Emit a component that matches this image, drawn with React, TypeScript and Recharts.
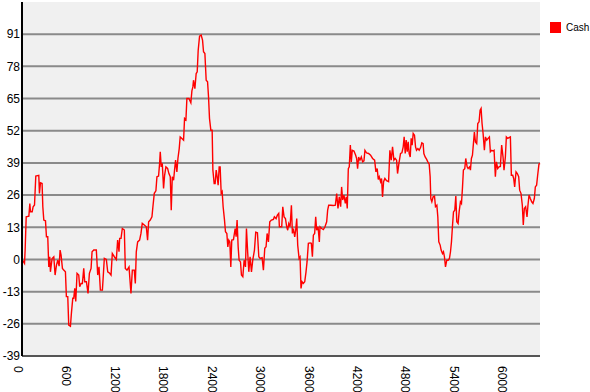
import React from 'react';
import { LineChart, Line, XAxis, YAxis, CartesianGrid } from 'recharts';

const days = [
  0, 31, 39, 52, 85, 97, 105, 126, 138, 155, 171, 208, 216, 229, 249, 258, 270, 291, 303, 319,
  332, 344, 352, 373, 394, 410, 427, 443, 460, 472, 484, 501, 517, 538, 550, 567, 579, 600, 612, 629,
  641, 654, 666, 682, 703, 715, 732, 748, 765, 777, 798, 818, 835, 856, 868, 889, 921, 938, 954, 971,
  996, 1004, 1020, 1045, 1062, 1086, 1103, 1119, 1144, 1169, 1185, 1202, 1210, 1227, 1243, 1268, 1280, 1301, 1326, 1350,
  1367, 1391, 1404, 1416, 1433, 1457, 1474, 1490, 1515, 1540, 1556, 1569, 1589, 1610, 1622, 1639, 1659, 1672, 1692, 1705,
  1713, 1725, 1738, 1754, 1767, 1783, 1804, 1820, 1837, 1849, 1862, 1878, 1890, 1903, 1919, 1932, 1948, 1960, 1981, 2002,
  2014, 2031, 2043, 2068, 2092, 2105, 2117, 2125, 2142, 2158, 2171, 2183, 2200, 2220, 2237, 2249, 2266, 2282, 2299, 2311,
  2323, 2340, 2356, 2365, 2381, 2393, 2406, 2418, 2430, 2443, 2455, 2468, 2480, 2492, 2509, 2521, 2538, 2550, 2562, 2575,
  2587, 2599, 2620, 2641, 2653, 2665, 2678, 2690, 2707, 2719, 2736, 2752, 2769, 2781, 2797, 2810, 2826, 2843, 2859, 2880,
  2896, 2917, 2934, 2950, 2975, 2991, 3008, 3024, 3037, 3053, 3070, 3090, 3115, 3127, 3148, 3164, 3181, 3189,
  3198, 3218, 3231, 3247, 3264, 3280, 3292, 3305, 3321, 3338, 3350, 3363, 3379, 3391, 3404, 3416, 3433, 3445, 3457, 3470,
  3486, 3503, 3519, 3532, 3548, 3569, 3585, 3598, 3610, 3626, 3639, 3651, 3668, 3684, 3692, 3713, 3734, 3754, 3775, 3787,
  3800, 3824, 3857, 3882, 3899, 3915, 3931, 3948, 3960, 3973, 3989, 4006, 4018, 4030, 4043, 4055, 4068, 4080, 4092, 4113,
  4134, 4146, 4158, 4171, 4187, 4204, 4220, 4237, 4249, 4270, 4294, 4319, 4344, 4369, 4385, 4401, 4414, 4426, 4443, 4455,
  4467, 4480, 4496, 4517, 4542, 4558, 4575, 4591, 4608, 4624, 4641, 4653, 4670, 4690, 4707, 4723, 4735, 4748, 4760, 4773,
  4785, 4797, 4810, 4822, 4834, 4847, 4863, 4876, 4888, 4905, 4921, 4938, 4954, 4970, 4979, 4995, 5012, 5028, 5045, 5057,
  5065, 5078, 5094, 5111, 5123, 5140, 5152, 5164, 5181, 5193, 5210, 5222, 5234, 5247, 5263, 5280, 5296, 5309, 5321, 5333,
  5346, 5362, 5375, 5387, 5403, 5416, 5432, 5445, 5457, 5469, 5486, 5498, 5515, 5527, 5544, 5556, 5568, 5581, 5593, 5605,
  5618, 5634, 5647, 5663, 5676, 5688, 5700, 5713, 5729, 5742, 5758, 5775, 5791, 5803, 5820, 5836, 5849, 5865, 5878, 5894,
  5910, 5927, 5943, 5960, 5972, 5989, 6001, 6018, 6034, 6051, 6063, 6080, 6092, 6104, 6121, 6137, 6154, 6166, 6183, 6199,
  6211, 6224, 6240, 6257, 6269, 6282, 6298, 6315, 6331, 6348, 6360, 6376, 6389, 6405, 6418,
];

const cash = [
  0, -1.6, 3.8, 17.2, 17.5, 22.6, 19.3, 19.3, 21.3, 22, 33.7, 34, 26.7, 31, 30.7, 21.3, 15.9, 15.6, 9.2, 9.2,
  -3, 1.1, -5, 0.4, 1.1, -6.3, -2.3, -0.3, -2.7, 3.8, 1.8, -3.6, -4.3, -5, -15, -15, -26.5, -27, -21.8, -15.7,
  -15.7, -11.7, -17, -5.6, -6.3, -11, -9.7, -9.7, -3.6, -9, -9, -13.7, -5.6, -3.6, 3.1, 3.8, 3.8, -6.3, -3, -12.4,
  -12.4, -8.3, 0.4, 0, -5, -5.6, -6.3, 2.4, 1.1, 0, 7.8, 3.1, 8.5, 8.5, 12.5, 11.9, -3.6, -4.3, -3, -13.7,
  -4.3, -4.3, -9.7, 3.1, 7.1, 7.8, 10.5, 14.6, 13.9, 13.2, 7.8, 15.2, 15.9, 17.2, 21.3, 26.7, 27.7, 33.4, 33.7, 38.8,
  43.5, 37.4, 38.8, 28.7, 34, 37.4, 36.8, 34.7, 33.4, 19.9, 33.4, 32, 36.1, 40.1, 35.4, 40.8, 44.8, 49.5, 48.9, 48.2,
  57, 56.4, 65, 65, 63.3, 68.1, 69.7, 72.4, 69, 75.1, 75.8, 84.5, 90.2, 90.6, 88.6, 83.9, 83.2, 72.4, 71.8, 65.7,
  57, 52.2, 52.2, 36.1, 30.7, 30.7, 36.1, 33.4, 30, 37.4, 37.4, 26.7, 27.4, 21.3, 15.9, 11.2, 10.5, 5.1, 7.8, 7.1,
  -3, 7.8, 8, 12.5, 9.2, 15.9, 5.1, -0.3, -1, -6.3, -7, -0.3, -3, 12.5, 2.4, -5, 1.1, -5, -0.3, 3.8,
  11, 10.8, 1.1, 0.4, 0.7, -4.3, 4.5, 5.1, 10.5, 7.1, 15.2, 15.9, 16.2, 17.2, 16.5, 17.9, 18.6, 13.2,
  13.2, 13.2, 21.3, 17.2, 16.5, 13.2, 11.8, 14.5, 13.2, 21.9, 10.5, 12.5, 9.1, 11.8, 16.5, 5.8, 0.4, 1, -11.7, -9,
  -9.7, -9, -5, -0.9, 6.5, 6.7, 6.5, 1.1, 9.8, 10.5, 17.2, 11.8, 13.2, 7.1, 13.2, 12.5, 12.1, 13.2, 15.2, 19.9,
  21.9, 21.9, 21.8, 21.9, 26.6, 20.6, 25.3, 21.3, 29.3, 24, 26, 22.6, 25.3, 20.6, 36.7, 37.4, 46.2, 39.4, 44.1, 43.8,
  42.1, 40.8, 36.7, 41.4, 40.1, 41.4, 39.4, 39.8, 44.1, 43, 42.8, 42.1, 40.8, 40.1, 35.4, 36.7, 32.3, 33.4, 31.4, 32.7,
  25.2, 31.4, 32.7, 31.8, 31.4, 44.1, 40.1, 45.5, 40.1, 40.8, 40.1, 34.7, 38.8, 42.8, 43.1, 45.5, 49.5, 42.8, 48.2, 43.5,
  47.5, 42.8, 41.4, 48.9, 46.2, 50.9, 50.2, 45.5, 44.1, 44.8, 44.1, 45.2, 47.1, 46.8, 42.8, 41.4, 40.5, 39.4, 38.5, 33.4,
  24.6, 23.3, 25.3, 25.6, 21.3, 21.9, 17.2, 7.1, 5.8, 3.8, 2.4, 3.1, 1.1, -3, -0.3, -0.3, 0.4, 3.1, 7.1, 13.2,
  19.2, 19.9, 25.6, 15.2, 14.5, 19.2, 23.3, 22.6, 28.7, 36.1, 36.7, 40.8, 37.4, 36.7, 37.4, 36.1, 40.8, 42.1, 46.8, 51.5,
  47.5, 46.8, 54.9, 55.6, 60.3, 61, 54.9, 50.9, 44.1, 49.5, 48.2, 48.9, 49.5, 43.5, 44.1, 43.8, 44.1, 33.4, 39.4, 36.7,
  37.4, 37.6, 46.2, 41.4, 36.1, 41.4, 49.5, 48.9, 49.2, 49.5, 34, 34, 32.7, 29.3, 35.4, 34.7, 33.4, 28, 26.6, 21.9,
  13.9, 20.6, 21.3, 17.2, 21.9, 26, 24.6, 23.3, 22.6, 24.6, 29.3, 30, 34, 38.5, 38.8,
];

const xTicks = [0, 600, 1200, 1800, 2400, 3000, 3600, 4200, 4800, 5400, 6000];
const yTicks = [-39, -26, -13, 0, 13, 26, 39, 52, 65, 78, 91];

const data = days.map((d, i) => ({ day: d, cash: cash[i] }));

const font = '"Liberation Sans", Arial, sans-serif';

const XTick = (props: any) => {
  const { x, y, payload } = props;
  return (
    <text
      x={x}
      y={y}
      dy={8}
      transform={`rotate(90, ${x}, ${y})`}
      textAnchor="start"
      fontSize={12}
      fontFamily={font}
      fill="#000"
    >
      {payload.value}
    </text>
  );
};

export default function App() {
  return (
    <div style={{ position: 'absolute', left: 0, top: 0, width: 590, height: 392, background: '#fff' }}>
      <LineChart width={590} height={392} data={data} margin={{ top: 2, right: 50, left: 0, bottom: 0 }}>
        <CartesianGrid
          vertical={false}
          horizontalValues={yTicks}
          fill="#f0f0f0"
          stroke="#8a8a8a"
          strokeWidth={2}
        />
        <XAxis
          dataKey="day"
          type="number"
          domain={[0, 6418]}
          ticks={xTicks}
          interval={0}
          height={36}
          tickLine={false}
          tick={<XTick />}
          tickMargin={4}
          axisLine={{ stroke: '#555', strokeWidth: 2 }}
        />
        <YAxis
          type="number"
          domain={[-39, 104]}
          ticks={yTicks}
          interval={0}
          width={22}
          tickLine={false}
          tickSize={0}
          tickMargin={2}
          tick={{ fill: '#000', fontSize: 12, fontFamily: font }}
          axisLine={{ stroke: '#000', strokeWidth: 2 }}
        />
        <Line
          type="linear"
          dataKey="cash"
          stroke="#ff0000"
          strokeWidth={1.4}
          dot={false}
          isAnimationActive={false}
        />
      </LineChart>
      <div
        style={{
          position: 'absolute',
          left: 550,
          top: 22,
          display: 'flex',
          alignItems: 'center',
          fontFamily: font,
          fontSize: 10,
          color: '#000',
          whiteSpace: 'nowrap',
        }}
      >
        <span style={{ display: 'inline-block', width: 11, height: 11, background: '#ff0000', marginRight: 5 }} />
        <span>Cash</span>
      </div>
    </div>
  );
}
